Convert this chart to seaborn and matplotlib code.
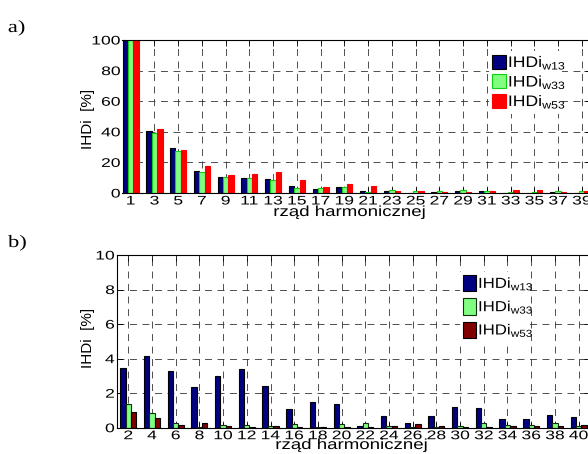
import numpy as np
import pandas as pd
import matplotlib
matplotlib.use('Agg')
import matplotlib.pyplot as plt
import matplotlib.patches as mpatches
from matplotlib.patheffects import AbstractPathEffect
from matplotlib.transforms import Affine2D
import seaborn as sns

# ---------------- data ----------------
harm_a = list(range(1, 40, 2))
a_w13 = [100, 40.3, 29.2, 14.2, 10.5, 10.0, 9.4, 4.7, 2.6, 3.8,
         1.5, 1.5, 0.3, 0.6, 1.3, 1.3, 0.2, 0.2, 0.5, 0.3]
a_w33 = [100, 39.2, 27.7, 13.5, 10.2, 10.0, 8.7, 3.3, 3.4, 3.7,
         0.7, 2.2, 1.0, 1.5, 2.2, 1.6, 0.8, 0.8, 1.3, 1.3]
a_w53 = [100, 42.0, 28.3, 17.9, 11.5, 12.2, 13.6, 8.3, 4.0, 6.2,
         4.4, 1.3, 1.5, 0.6, 0.6, 1.3, 2.0, 2.2, 0.9, 1.5]

harm_b = list(range(2, 41, 2))
b_w13 = [3.43, 4.15, 3.28, 2.37, 2.99, 3.40, 2.41, 1.06, 1.49, 1.37,
         0.12, 0.69, 0.29, 0.68, 1.22, 1.12, 0.52, 0.52, 0.71, 0.62]
b_w33 = [1.35, 0.87, 0.27, 0.04, 0.15, 0.15, 0.10, 0.21, 0.06, 0.19,
         0.25, 0.10, 0.06, 0.04, 0.12, 0.25, 0.17, 0.17, 0.29, 0.10]
b_w53 = [0.93, 0.56, 0.15, 0.29, 0.10, 0.04, 0.12, 0.06, 0.06, 0.04,
         0.02, 0.10, 0.21, 0.08, 0.06, 0.04, 0.10, 0.10, 0.10, 0.17]

series = [r'IHDi$_{\mathregular{w13}}$', r'IHDi$_{\mathregular{w33}}$',
          r'IHDi$_{\mathregular{w53}}$']
xlabel = 'rząd harmonicznej'
ylabel = 'IHDi  [%]'

# ---------------- style ----------------
plt.rcParams['font.family'] = ['Liberation Sans', 'DejaVu Sans']
plt.rcParams['mathtext.fontset'] = 'custom'
plt.rcParams['mathtext.rm'] = 'Liberation Sans'
plt.rcParams['lines.scale_dashes'] = False


class HStretch(AbstractPathEffect):
    """Horizontally widen glyph outlines around an anchor (0 left, .5 centre, 1 right)."""
    def __init__(self, sx, anchor=0.5):
        super().__init__()
        self.sx = sx
        self.anchor = anchor

    def draw_path(self, renderer, gc, tpath, affine, rgbFace=None):
        if len(tpath.vertices) == 0:
            return
        ext = tpath.get_extents()
        x0 = ext.x0 + self.anchor * ext.width
        t = Affine2D().translate(-x0, 0).scale(self.sx, 1).translate(x0, 0)
        renderer.draw_path(gc, tpath, t + affine, rgbFace)


W, H = 588, 454
fig = plt.figure(figsize=(W / 100, H / 100), dpi=100)
fig.patch.set_facecolor('white')


def px_axes(left, top, right, bottom):
    return fig.add_axes([left / W, 1 - bottom / H, (right - left) / W, (bottom - top) / H])


def long_df(harm, vals):
    rows = []
    for s, v in zip(series, vals):
        for h, x in zip(harm, v):
            rows.append({'harm': h, 'series': s, 'val': x})
    return pd.DataFrame(rows)


def draw_panel(ax, harm, vals, colors, edges, ylim, yticks, xlim, leg_anchor,
               leg_font, leg_hh, leg_sp, lab_pos):
    df = long_df(harm, vals)
    sns.barplot(data=df, x='harm', y='val', hue='series', order=harm,
                hue_order=series, palette=colors, width=0.68, errorbar=None,
                legend=False, saturation=1, linewidth=0.8, ax=ax)
    for cont, ec in zip(ax.containers, edges):
        for bar in cont:
            bar.set_edgecolor(ec)
    ax.set_xlim(*xlim)
    ax.set_ylim(*ylim)
    ax.set_yticks(yticks)
    ax.set_yticklabels([str(t) for t in yticks])
    ax.set_xticks(range(len(harm)))
    ax.set_xticklabels([str(h) for h in harm])
    ax.set_axisbelow(True)
    ax.grid(True, color='0.2', lw=0.6, linestyle=(0, (5, 4)))
    for sp in ax.spines.values():
        sp.set_visible(True)
        sp.set_color('black')
        sp.set_linewidth(0.8)
    ax.tick_params(axis='both', direction='in', top=True, right=True,
                   length=4, width=0.6, labelsize=9, colors='black')
    ax.tick_params(axis='x', pad=1.8)
    ax.tick_params(axis='y', pad=1.5)
    for lab in ax.get_xticklabels():
        lab.set_path_effects([HStretch(1.4, 0.5)])
    for lab in ax.get_yticklabels():
        lab.set_path_effects([HStretch(1.4, 1.0)])
    ax.set_xlabel(xlabel, fontsize=10.5, labelpad=0)
    ax.xaxis.label.set_path_effects([HStretch(1.28, 0.5)])
    ax.xaxis.set_label_coords(lab_pos[0], lab_pos[1])
    ax.xaxis.label.set_va('top')
    ax.set_ylabel(ylabel, fontsize=11)
    ax.yaxis.set_label_coords(lab_pos[2], lab_pos[3])
    ax.yaxis.label.set_va('center')
    handles = [mpatches.Patch(facecolor=c, edgecolor=e, linewidth=0.8, label=l)
               for c, e, l in zip(colors, edges, series)]
    leg = ax.legend(handles=handles, loc='upper left',
                    bbox_to_anchor=(leg_anchor[0] / W, 1 - leg_anchor[1] / H),
                    bbox_transform=fig.transFigure, frameon=True, fancybox=False,
                    edgecolor='none', facecolor='white', framealpha=1,
                    borderpad=0.2, borderaxespad=0, handlelength=0.9,
                    handleheight=leg_hh, handletextpad=0.15, labelspacing=leg_sp,
                    fontsize=leg_font)
    for t in leg.get_texts():
        t.set_path_effects([HStretch(1.15, 0.0)])
    return ax


# panel a
ax_a = px_axes(122.5, 40, 590, 193)
draw_panel(ax_a, harm_a, [a_w13, a_w33, a_w53],
           colors=['#000080', '#80ff80', '#ff0000'],
           edges=['black', '#10d010', '#ff0000'],
           ylim=(0, 100), yticks=[0, 20, 40, 60, 80, 100],
           xlim=(-0.345, 19.345), leg_anchor=(489, 51), leg_font=11, leg_hh=1.05,
           leg_sp=0.12,
           lab_pos=((350 - 122.5) / 467.5, -(205 - 193) / 153,
                    (88 - 122.5) / 467.5, (193 - 119) / 153))

# panel b
ax_b = px_axes(116.7, 255, 590.2, 427.7)
draw_panel(ax_b, harm_b, [b_w13, b_w33, b_w53],
           colors=['#000080', '#80ff80', '#800000'],
           edges=['black', '#103010', 'black'],
           ylim=(0, 10), yticks=[0, 2, 4, 6, 8, 10],
           xlim=(-0.49, 19.49), leg_anchor=(460, 272), leg_font=10.5, leg_hh=1.35,
           leg_sp=0.38,
           lab_pos=((352 - 116.7) / 473.5, -(438 - 427.7) / 172.7,
                    (88 - 116.7) / 473.5, (427.7 - 338) / 172.7))

# panel letters
for txt, yb in (('a)', 32), ('b)', 247)):
    t = fig.text(8 / W, 1 - yb / H, txt, fontsize=12.5, family='Liberation Serif',
                 va='baseline', ha='left')
    t.set_path_effects([HStretch(1.3, 0.0)])

fig.savefig('out.png', dpi=100)
